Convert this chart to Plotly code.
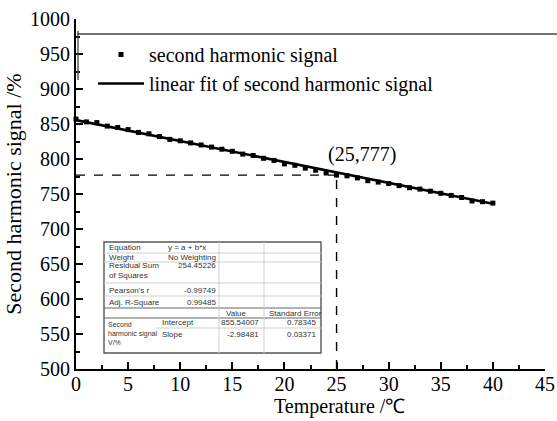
import plotly.graph_objects as go

# ---------------- data ----------------
temperature = list(range(0, 41))
signal = [857, 853, 852, 847, 845, 842, 838, 836, 832, 828,
          826, 823, 820, 817, 814, 811, 807, 805, 801, 798,
          793, 791, 787, 784, 780, 777, 776, 773, 769, 767,
          765, 762, 759, 757, 754, 751, 748, 745, 740, 739, 737]

fit_intercept = 855.54007
fit_slope = -2.98481
fit_x = [0, 40]
fit_y = [fit_intercept + fit_slope * v for v in fit_x]

mark_point = (25, 777)

x_ticks = [0, 5, 10, 15, 20, 25, 30, 35, 40, 45]
y_ticks = [500, 550, 600, 650, 700, 750, 800, 850, 900, 950, 1000]

table_top_labels = ["Equation", "Weight", "Residual Sum<br>of Squares", "Pearson's r", "Adj. R-Square"]
table_top_values = ["y = a + b*x", "No Weighting", "254.45226", "-0.99749", "0.99485"]
table_head = ["Value", "Standard Error"]
table_param_names = ["Intercept", "Slope"]
table_param_values = ["855.54007", "-2.98481"]
table_param_errors = ["0.78345", "0.03371"]
table_group = "Second<br>harmonic signal<br>V/%"

# ---------------- layout geometry ----------------
W, H = 557, 421
L, R, T, B = 76, 12, 19, 52
PW, PH = W - L - R, H - T - B

def px(xp):
    return (xp - L) / PW

def py(yp):
    return (H - B - yp) / PH

FONT = "Liberation Serif"
TFONT = "Liberation Sans"

fig = go.Figure()

fig.add_trace(go.Scatter(
    x=temperature, y=signal, mode="markers",
    marker=dict(symbol="square", size=5, color="black"),
    name="second harmonic signal", cliponaxis=False))

fig.add_trace(go.Scatter(
    x=fit_x, y=fit_y, mode="lines",
    line=dict(color="black", width=2.6),
    name="linear fit of second harmonic signal"))

shapes = []
# dashed guide lines
shapes.append(dict(type="line", xref="x", yref="y", x0=0, x1=mark_point[0],
                   y0=mark_point[1], y1=mark_point[1],
                   line=dict(color="black", width=1.4, dash="dash")))
shapes.append(dict(type="line", xref="x", yref="y", x0=mark_point[0], x1=mark_point[0],
                   y0=500, y1=mark_point[1],
                   line=dict(color="black", width=1.4, dash="dash")))
# legend box fragments
shapes.append(dict(type="line", xref="paper", yref="paper", x0=px(77), x1=px(560),
                   y0=py(34), y1=py(34), line=dict(color="#444", width=1.3)))
shapes.append(dict(type="line", xref="paper", yref="paper", x0=px(78), x1=px(78),
                   y0=py(31), y1=py(80), line=dict(color="#444", width=1.3)))

# table
tl, tr, tt, tb = 104, 321, 242, 353
shapes.append(dict(type="rect", xref="paper", yref="paper", x0=px(tl), x1=px(tr),
                   y0=py(tb), y1=py(tt), fillcolor="white",
                   line=dict(color="#555", width=1.4), layer="above"))
light = dict(color="#cfcfcf", width=1)
dark = dict(color="#666", width=1.2)
for yl, st in [(253, light), (262, light), (283, light), (296, light),
               (308, dark), (318, dark)]:
    shapes.append(dict(type="line", xref="paper", yref="paper", x0=px(tl), x1=px(tr),
                       y0=py(yl), y1=py(yl), line=st, layer="above"))
shapes.append(dict(type="line", xref="paper", yref="paper", x0=px(156), x1=px(tr),
                   y0=py(328), y1=py(328), line=light, layer="above"))
for xl in [219, 264]:
    shapes.append(dict(type="line", xref="paper", yref="paper", x0=px(xl), x1=px(xl),
                       y0=py(tb), y1=py(tt), line=light, layer="above"))

ann = []
def t(text, xp, yp, anchor="left", size=8):
    ann.append(dict(text=text, xref="paper", yref="paper", x=px(xp), y=py(yp),
                    xanchor=anchor, yanchor="middle", showarrow=False,
                    font=dict(family=TFONT, size=size, color="#333"), align="left"))

top_rows_y = [247, 257, 270, 290, 302]
for lab, val, yy in zip(table_top_labels, table_top_values, top_rows_y):
    t(lab, 107, yy)
    if val == "y = a + b*x":
        t(val, 166, yy)
    else:
        t(val, 218, yy - (5 if "Residual" in lab else 0), anchor="right")
t(table_head[0], 224, 313)
t(table_head[1], 267, 313)
t(table_group, 106, 333, size=7)
for nm, v, e, yy in zip(table_param_names, table_param_values, table_param_errors, [322, 334]):
    t(nm, 160, yy)
    t(v, 261, yy, anchor="right")
    t(e, 318, yy, anchor="right")

ann.append(dict(text="(%d,%d)" % mark_point, x=27.4, y=806, xref="x", yref="y",
                showarrow=False, font=dict(family=FONT, size=20, color="black")))
# x axis title
ann.append(dict(text="Temperature /℃", xref="paper", yref="paper", x=px(339), y=py(420),
                xanchor="center", yanchor="bottom", showarrow=False,
                font=dict(family=FONT, size=20, color="black")))

fig.update_layout(
    width=W, height=H,
    margin=dict(l=L, r=R, t=T, b=B, autoexpand=False),
    paper_bgcolor="white", plot_bgcolor="white",
    font=dict(family=FONT, size=20, color="black"),
    shapes=shapes, annotations=ann,
    showlegend=True,
    legend=dict(x=px(93), y=py(35), xanchor="left", yanchor="top",
                bgcolor="rgba(0,0,0,0)", borderwidth=0,
                font=dict(family=FONT, size=20, color="black"),
                tracegroupgap=0, itemwidth=46),
)
fig.update_xaxes(
    range=[0, 45], tickvals=x_ticks, ticktext=[str(v) for v in x_ticks],
    ticks="inside", ticklen=7, tickwidth=2, tickcolor="black", automargin=False,
    ticklabeloverflow="allow", ticklabelstandoff=-4,
    showline=True, linewidth=2.2, linecolor="black", showgrid=False, zeroline=False,
    minor=dict(dtick=2.5, ticks="inside", ticklen=4, tickwidth=1.6, tickcolor="black"),
    tickfont=dict(family=FONT, size=20),
)
fig.update_yaxes(
    range=[500, 1000], tickvals=y_ticks, ticktext=[str(v) for v in y_ticks],
    ticks="inside", ticklen=7, tickwidth=2, tickcolor="black", automargin=False,
    ticklabeloverflow="allow",
    showline=True, linewidth=2.2, linecolor="black", showgrid=False, zeroline=False,
    minor=dict(dtick=25, ticks="inside", ticklen=4, tickwidth=1.6, tickcolor="black"),
    title=dict(text="Second harmonic signal /%", font=dict(family=FONT, size=22), standoff=2),
    tickfont=dict(family=FONT, size=20),
)

fig.write_html("out.html")
